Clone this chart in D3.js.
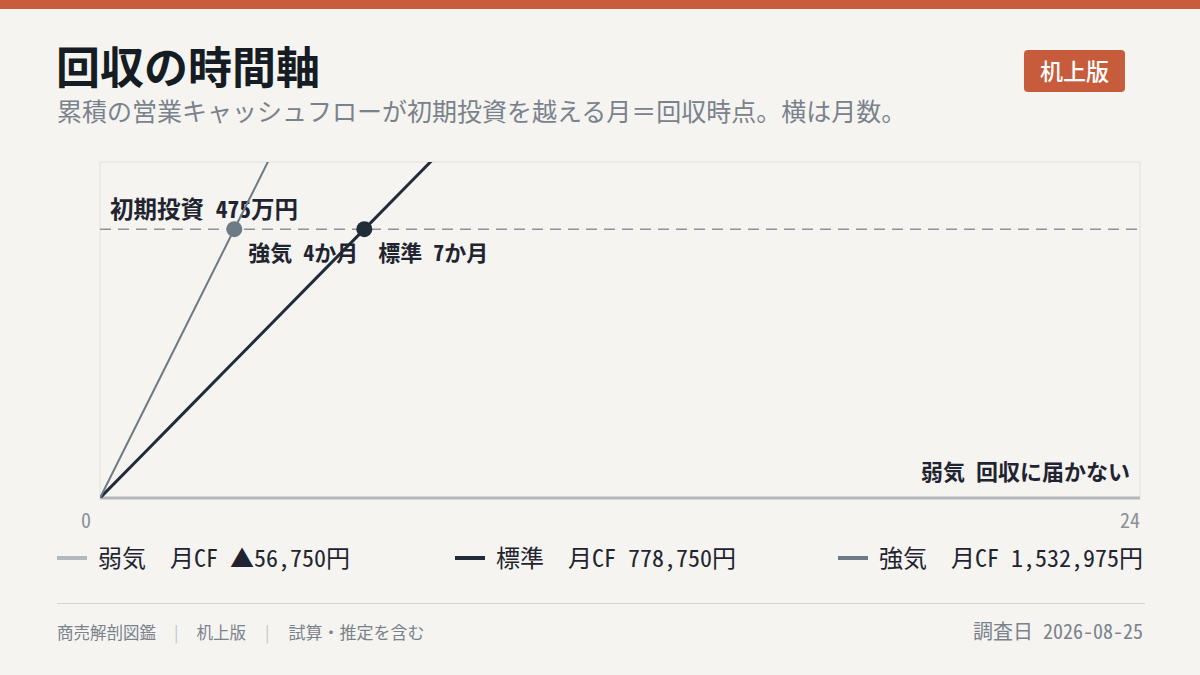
<!DOCTYPE html>
<html>
<head>
<meta charset="utf-8">
<script src="https://cdn.jsdelivr.net/npm/d3@7"></script>
<style>
  html, body { margin: 0; padding: 0; background: #f5f4f0; }
  svg { display: block; }
  text { font-family: "Noto Sans Mono CJK JP", "Noto Sans CJK JP", sans-serif; }
</style>
</head>
<body>
<script>
// data
var scenarios = ['弱気', '標準', '強気'];
var monthlyCF = [-56750, 778750, 1532975];
var investment = 4750000;
var xTicks = [0, 24];
var months = d3.range(0, 25);

var colors = { '弱気': '#b3b8bd', '標準': '#222c39', '強気': '#6f7a87' };
var widths = { '弱気': 3, '標準': 3, '強気': 2 };

var W = 1200, H = 675;
var svg = d3.select('body').append('svg').attr('width', W).attr('height', H);

svg.append('rect').attr('width', W).attr('height', H).attr('fill', '#f5f4f0');
svg.append('rect').attr('width', W).attr('height', 9).attr('fill', '#c95c3c');

// title
svg.append('text').attr('x', 56).attr('y', 84)
  .attr('font-size', 44).attr('font-weight', 700).attr('fill', '#151c24')
  .style('font-family', '"Noto Sans CJK JP", sans-serif')
  .text('回収の時間軸');
svg.append('text').attr('x', 57).attr('y', 121)
  .attr('font-size', 25).attr('fill', '#7a828c')
  .style('font-family', '"Noto Sans CJK JP", sans-serif')
  .text('累積の営業キャッシュフローが初期投資を越える月＝回収時点。横は月数。');

// badge
svg.append('rect').attr('x', 1024).attr('y', 50).attr('width', 101).attr('height', 42)
  .attr('rx', 4).attr('fill', '#c75c3c');
svg.append('text').attr('x', 1074.5).attr('y', 80).attr('text-anchor', 'middle')
  .attr('font-size', 23).attr('font-weight', 500).attr('fill', '#fff')
  .style('font-family', '"Noto Sans CJK JP", sans-serif')
  .text('机上版');

// plot box
var plotLeft = 100, plotRight = 1140, plotTop = 162, plotBottom = 498;
var x = d3.scaleLinear().domain([0, 24]).range([plotLeft, plotRight]);
var y = d3.scaleLinear().domain([0, investment * 1.25]).range([plotBottom, plotTop]);

svg.append('rect').attr('x', plotLeft).attr('y', plotTop)
  .attr('width', plotRight - plotLeft).attr('height', plotBottom - plotTop)
  .attr('fill', 'none').attr('stroke', '#e2e0da').attr('stroke-width', 1);

svg.append('defs').append('clipPath').attr('id', 'plotclip')
  .append('rect').attr('x', plotLeft).attr('y', plotTop)
  .attr('width', plotRight - plotLeft).attr('height', plotBottom - plotTop);

// zero baseline (weak case stays here)
svg.append('line')
  .attr('x1', plotLeft).attr('x2', plotRight)
  .attr('y1', y(0)).attr('y2', y(0))
  .attr('stroke', colors['弱気']).attr('stroke-width', 3);

// investment line
svg.append('line')
  .attr('x1', plotLeft).attr('x2', plotRight)
  .attr('y1', y(investment)).attr('y2', y(investment))
  .attr('stroke', '#8d939b').attr('stroke-width', 1.6).attr('stroke-dasharray', '11,7');

svg.append('text').attr('x', 110).attr('y', y(investment) - 11)
  .attr('font-size', 23.5).attr('font-weight', 700).attr('fill', '#1f2430')
  .text('初期投資  ' + (investment / 10000) + '万円');

// cumulative lines
var line = d3.line()
  .x(function (d) { return x(d.m); })
  .y(function (d) { return y(d.v); });

var g = svg.append('g').attr('clip-path', 'url(#plotclip)');
scenarios.forEach(function (s, i) {
  var pts = months.map(function (m) { return { m: m, v: m * monthlyCF[i] }; });
  g.append('path').datum(pts)
    .attr('d', line)
    .attr('fill', 'none')
    .attr('stroke', colors[s])
    .attr('stroke-width', widths[s]);
});

// payback dots and labels
scenarios.forEach(function (s, i) {
  if (monthlyCF[i] <= 0) {
    svg.append('text').attr('x', plotRight - 10).attr('y', plotBottom - 18)
      .attr('text-anchor', 'end')
      .attr('font-size', 22).attr('font-weight', 700).attr('fill', '#1f2430')
      .text(s + '  回収に届かない');
    return;
  }
  var pm = investment / monthlyCF[i];
  svg.append('circle').attr('cx', x(pm)).attr('cy', y(investment)).attr('r', 8)
    .attr('fill', colors[s]);
  svg.append('text').attr('x', x(pm) + 14).attr('y', y(investment) + 32)
    .attr('font-size', 22).attr('font-weight', 700).attr('fill', '#1f2430')
    .text(s + '  ' + Math.ceil(pm) + 'か月');
});

// x ticks
svg.selectAll('.tick').data(xTicks).enter().append('text')
  .attr('class', 'tick')
  .attr('x', function (d, i) { return i === 0 ? x(d) - 9 : x(d); })
  .attr('y', 528)
  .attr('text-anchor', 'end')
  .attr('font-size', 20).attr('fill', '#8a9099')
  .text(function (d) { return d; });

// legend
var legendX = [57, 455, 838];
var fmt = d3.format(',');
scenarios.forEach(function (s, i) {
  var lg = svg.append('g').attr('transform', 'translate(' + legendX[i] + ',558)');
  lg.append('line').attr('x1', 0).attr('x2', 30).attr('y1', 0).attr('y2', 0)
    .attr('stroke', colors[s]).attr('stroke-width', 4);
  var v = monthlyCF[i];
  var vs = (v < 0 ? '▲' : '') + fmt(Math.abs(v)) + '円';
  lg.append('text').attr('x', 41).attr('y', 9)
    .attr('font-size', 24).attr('fill', '#1f2430')
    .text(s + '　月CF ' + vs);
});

// footer
svg.append('line').attr('x1', 57).attr('x2', 1145).attr('y1', 603.5).attr('y2', 603.5)
  .attr('stroke', '#d6d4ce').attr('stroke-width', 1);
var foot = svg.append('text').attr('x', 57).attr('y', 639)
  .attr('font-size', 16.5).attr('fill', '#7a828c')
  .style('font-family', '"Noto Sans CJK JP", sans-serif');
foot.append('tspan').text('商売解剖図鑑');
foot.append('tspan').attr('dx', 18).attr('fill', '#c4c6c8').text('|');
foot.append('tspan').attr('dx', 18).text('机上版');
foot.append('tspan').attr('dx', 19).attr('fill', '#c4c6c8').text('|');
foot.append('tspan').attr('dx', 19).attr('font-size', 17).text('試算・推定を含む');

svg.append('text').attr('x', 1143).attr('y', 639).attr('text-anchor', 'end')
  .attr('font-size', 20).attr('fill', '#7a828c')
  .text('調査日  2026-08-25');
</script>
</body>
</html>
